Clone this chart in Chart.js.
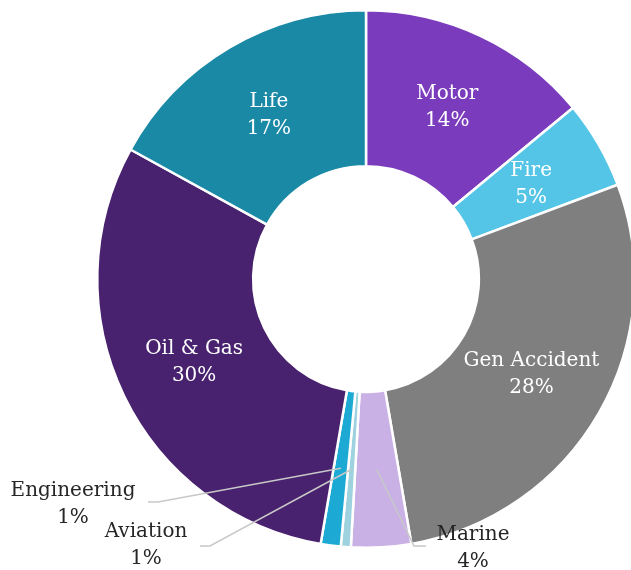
<!DOCTYPE html>
<html>
<head>
<meta charset="utf-8">
<script src="https://cdn.jsdelivr.net/npm/chart.js@4"></script>
<style>
  html, body { margin: 0; padding: 0; background: #fff; overflow: hidden; }
  #wrap { position: relative; width: 640px; height: 570px; }
</style>
</head>
<body>
<div id="wrap"><canvas id="chart"></canvas></div>
<script>
const categories = ['Motor', 'Fire', 'Gen Accident', 'Marine', 'Aviation', 'Engineering', 'Oil & Gas', 'Life'];
const shares = [14, 5.3, 28, 3.6, 0.6, 1.2, 30.3, 17];
const colors = ['#7a3cbc', '#54c5e6', '#7f7f7f', '#c9b1e5', '#9dd2de', '#1ca9d3', '#48226e', '#1a89a6'];

// labels drawn outside the ring with a leader line
const outside = {
	'Engineering': { elbow: [158, 502], end: [148, 502], text: [73, 491] },
	'Aviation': { elbow: [210, 546], end: [200, 546], text: [146, 532] },
	'Marine': { elbow: [414, 546], end: [426, 546], text: [473, 535] }
};

const labelPlugin = {
	id: 'sliceLabels',
	afterDraw(chart) {
		const ctx = chart.ctx;
		const meta = chart.getDatasetMeta(0);
		ctx.save();
		ctx.font = '20px "DejaVu Serif", serif';
		ctx.textAlign = 'center';
		ctx.textBaseline = 'middle';
		meta.data.forEach((arc, i) => {
			const name = categories[i];
			const pct = Math.round(shares[i]) + '%';
			const pos = arc.tooltipPosition();
			const o = outside[name];
			if (o) {
				ctx.strokeStyle = '#c8c8c8';
				ctx.lineWidth = 1.5;
				ctx.beginPath();
				ctx.moveTo(pos.x, pos.y);
				ctx.lineTo(o.elbow[0], o.elbow[1]);
				ctx.lineTo(o.end[0], o.end[1]);
				ctx.stroke();
				ctx.fillStyle = '#262626';
				ctx.fillText(name, o.text[0], o.text[1]);
				ctx.fillText(pct, o.text[0], o.text[1] + 27);
			} else {
				ctx.fillStyle = '#ffffff';
				ctx.fillText(name, pos.x, pos.y - 13);
				ctx.fillText(pct, pos.x, pos.y + 14);
			}
		});
		ctx.restore();
	}
};

new Chart(document.getElementById('chart'), {
	type: 'doughnut',
	data: {
		labels: categories,
		datasets: [{
			data: shares,
			backgroundColor: colors,
			borderColor: '#ffffff',
			borderWidth: 2.5
		}]
	},
	options: {
		responsive: true,
		maintainAspectRatio: false,
		animation: false,
		cutout: '42%',
		layout: { padding: { left: 96, right: 4, top: 9, bottom: 21 } },
		plugins: {
			legend: { display: false },
			tooltip: { enabled: false }
		}
	},
	plugins: [labelPlugin]
});
</script>
</body>
</html>
